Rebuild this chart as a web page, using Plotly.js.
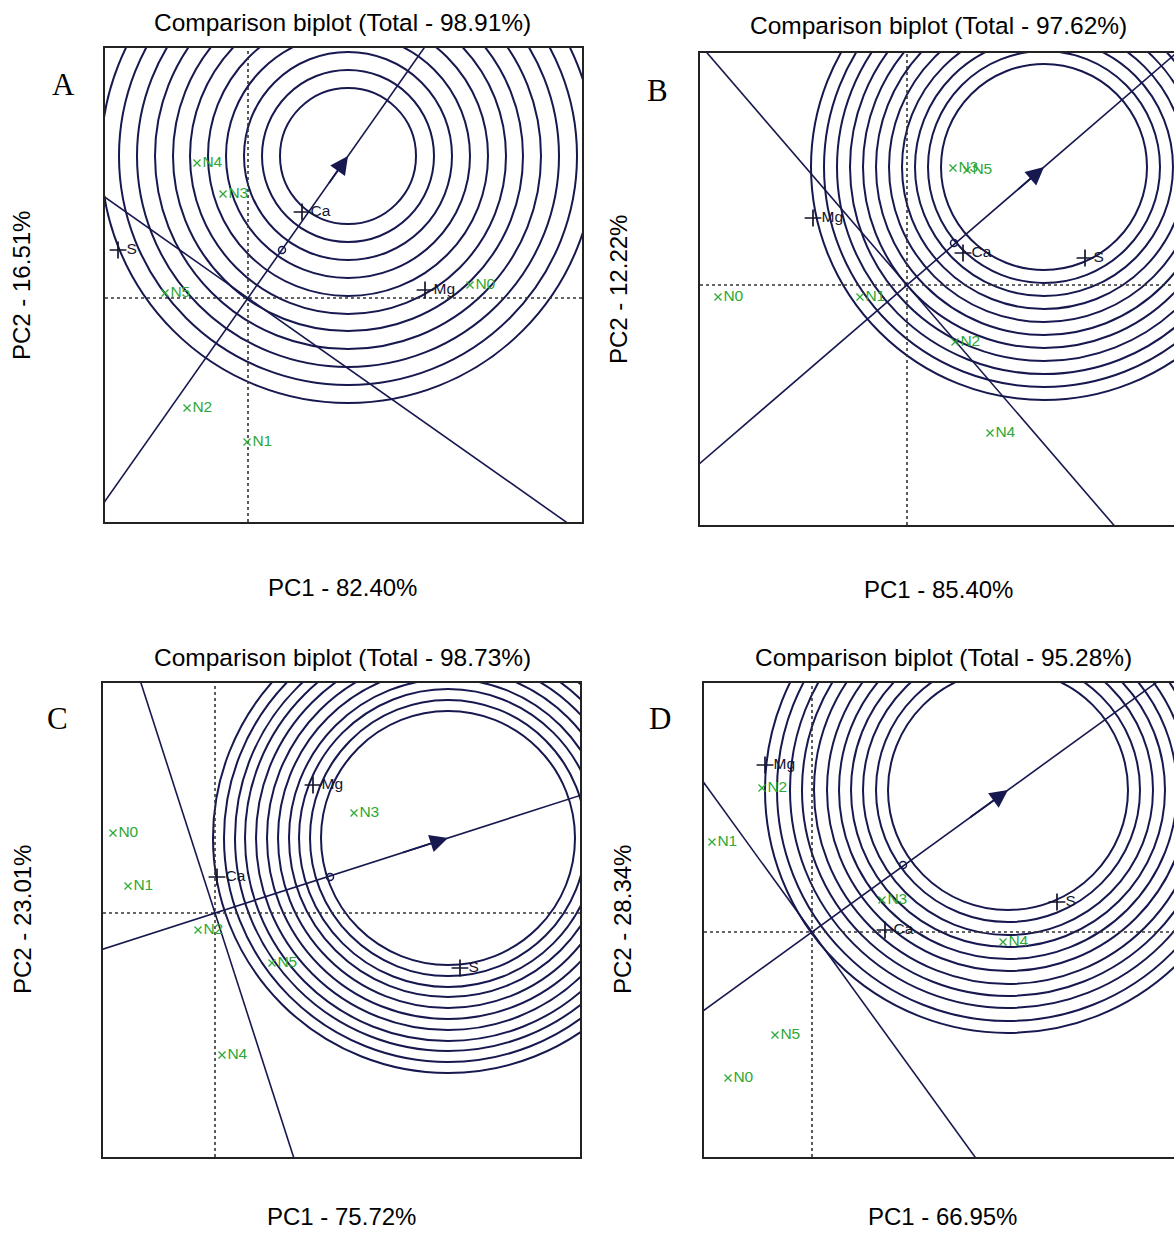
<!DOCTYPE html>
<html><head><meta charset="utf-8">
<script src="https://cdn.plot.ly/plotly-3.0.1.min.js"></script>
<style>html,body{margin:0;padding:0;overflow:hidden;background:#fff}#chart{width:1190px;height:1233px}</style>
</head><body><div id="chart"></div>
<script>
// ---------- DATA (PC1/PC2 scores) ----------
const envNames = ['Ca', 'Mg', 'S'];
const genNames = ['N0', 'N1', 'N2', 'N3', 'N4', 'N5'];
const panelLetters = ['A', 'B', 'C', 'D'];
const totalPct = ['98.91%', '97.62%', '98.73%', '95.28%'];
const pc1Pct = ['82.40%', '85.40%', '75.72%', '66.95%'];
const pc2Pct = ['16.51%', '12.22%', '23.01%', '28.34%'];

// Panel A
const envA_x = [0.54, 1.77, -1.30];
const envA_y = [0.86, 0.08, 0.48];
const genA_x = [2.22, -0.01, -0.61, -0.25, -0.51, -0.83];
const genA_y = [0.13, -1.44, -1.10, 1.04, 1.35, 0.05];
const avgA = [0.34, 0.48];
const idealA = [1.00, 1.42];
const ringsA = [0.68, 0.86, 1.04, 1.22, 1.40, 1.58, 1.75, 1.93, 2.11, 2.29, 2.47];

// Panel B
const envB_x = [0.56, -0.94, 1.78];
const envB_y = [0.32, 0.67, 0.27];
const genB_x = [-1.89, -0.47, 0.48, 0.46, 0.83, 0.60];
const genB_y = [-0.12, -0.12, -0.57, 1.17, -1.48, 1.15];
const avgB = [0.47, 0.42];
const idealB = [1.37, 1.18];
const ringsB = [1.03, 1.16, 1.29, 1.42, 1.55, 1.68, 1.81, 1.94, 2.07, 2.20, 2.33];

// Panel C
const envC_x = [0.02, 0.98, 2.45];
const envC_y = [0.36, 1.28, -0.55];
const genC_x = [-1.02, -0.87, -0.17, 1.39, 0.07, 0.57];
const genC_y = [0.80, 0.27, -0.17, 1.00, -1.42, -0.50];
const avgC = [1.15, 0.36];
const idealC = [2.33, 0.75];
const ringsC = [1.27, 1.38, 1.49, 1.59, 1.70, 1.81, 1.92, 2.03, 2.13, 2.24, 2.35];

// Panel D
const envD_x = [0.73, -0.47, 2.45];
const envD_y = [0.02, 1.67, 0.30];
const genD_x = [-0.84, -1.00, -0.50, 0.70, 1.91, -0.37];
const genD_y = [-1.46, 0.90, 1.44, 0.32, -0.10, -1.03];
const avgD = [0.91, 0.67];
const idealD = [1.96, 1.42];
const ringsD = [1.20, 1.32, 1.45, 1.57, 1.69, 1.81, 1.94, 2.06, 2.18, 2.31, 2.43];

// ---------- LAYOUT GEOMETRY ----------
const W = 1190, H = 1233;
const px2x = p => p / W;
const px2y = p => 1 - p / H;

const panels = [
  {env: [envA_x, envA_y], gen: [genA_x, genA_y], avg: avgA, ideal: idealA, rings: ringsA,
   box: [105, 582, 48, 522], xr: [-1.43, 3.34], yr: [-2.24, 2.50],
   title: [343, 22], xt: [343, 587], yt: [22, 286], letter: [63, 85]},
  {env: [envB_x, envB_y], gen: [genB_x, genB_y], avg: avgB, ideal: idealB, rings: ringsB,
   box: [700, 1177, 53, 525], xr: [-2.07, 2.70], yr: [-2.40, 2.32],
   title: [938, 25], xt: [938, 590], yt: [618, 290], letter: [657, 90]},
  {env: [envC_x, envC_y], gen: [genC_x, genC_y], avg: avgC, ideal: idealC, rings: ringsC,
   box: [103, 580, 683, 1157], xr: [-1.12, 3.65], yr: [-2.44, 2.30],
   title: [342, 657], xt: [341, 1216], yt: [22, 920], letter: [57, 718]},
  {env: [envD_x, envD_y], gen: [genD_x, genD_y], avg: avgD, ideal: idealD, rings: ringsD,
   box: [704, 1181, 683, 1157], xr: [-1.08, 3.69], yr: [-2.25, 2.49],
   title: [943, 657], xt: [942, 1216], yt: [622, 920], letter: [660, 718]}
];

const NAVY = '#16184f';
const DARK = '#15152e';
const GREEN = '#2ea836';
const FONT = 'Arial, "Liberation Sans", sans-serif';

const traces = [];
const shapes = [];
const annotations = [];
const layout = {
  width: W, height: H,
  margin: {l: 0, r: 0, t: 0, b: 0},
  paper_bgcolor: '#ffffff', plot_bgcolor: '#ffffff',
  showlegend: false, hovermode: false,
  font: {family: FONT, color: '#000'}
};

panels.forEach((p, i) => {
  const n = i === 0 ? '' : String(i + 1);
  const xa = 'x' + n, ya = 'y' + n;
  layout['xaxis' + n] = {
    domain: [px2x(p.box[0]), px2x(p.box[1])], range: p.xr, anchor: ya,
    showgrid: false, zeroline: false, showticklabels: false, ticks: '',
    showline: true, mirror: true, linecolor: '#222', linewidth: 2, fixedrange: true
  };
  layout['yaxis' + n] = {
    domain: [px2y(p.box[3]), px2y(p.box[2])], range: p.yr, anchor: xa,
    showgrid: false, zeroline: false, showticklabels: false, ticks: '',
    showline: true, mirror: true, linecolor: '#222', linewidth: 2, fixedrange: true
  };

  // concentric circles around the ideal point
  p.rings.forEach(r => {
    shapes.push({type: 'circle', xref: xa, yref: ya, layer: 'below',
      x0: p.ideal[0] - r, x1: p.ideal[0] + r, y0: p.ideal[1] - r, y1: p.ideal[1] + r,
      line: {color: NAVY, width: 2}});
  });

  // dotted axes through origin
  traces.push({x: p.xr, y: [0, 0], xaxis: xa, yaxis: ya, mode: 'lines',
    line: {color: '#333', width: 1.6, dash: 'dot'}});
  traces.push({x: [0, 0], y: p.yr, xaxis: xa, yaxis: ya, mode: 'lines',
    line: {color: '#333', width: 1.6, dash: 'dot'}});

  // average-environment axis and its perpendicular, both through origin
  const cx = p.ideal[0], cy = p.ideal[1];
  traces.push({x: [-10 * cx, 10 * cx], y: [-10 * cy, 10 * cy], xaxis: xa, yaxis: ya,
    mode: 'lines', line: {color: NAVY, width: 1.6}});
  traces.push({x: [10 * cy, -10 * cy], y: [-10 * cx, 10 * cx], xaxis: xa, yaxis: ya,
    mode: 'lines', line: {color: NAVY, width: 1.6}});

  // average environment marker
  traces.push({x: [p.avg[0]], y: [p.avg[1]], xaxis: xa, yaxis: ya, mode: 'markers',
    marker: {symbol: 'circle-open', size: 7, color: NAVY, line: {width: 1.5, color: NAVY}}});

  // environments (+)
  traces.push({x: p.env[0], y: p.env[1], text: envNames, xaxis: xa, yaxis: ya,
    mode: 'markers+text', textposition: 'middle right',
    textfont: {family: FONT, size: 15.5, color: DARK},
    marker: {symbol: 'cross-thin', size: 12, color: DARK, line: {width: 1.7, color: DARK}},
    cliponaxis: true});

  // genotypes (x)
  traces.push({x: p.gen[0], y: p.gen[1], text: genNames, xaxis: xa, yaxis: ya,
    mode: 'markers+text', textposition: 'middle right',
    textfont: {family: FONT, size: 15.5, color: GREEN},
    marker: {symbol: 'x-thin', size: 7, color: GREEN, line: {width: 1.3, color: GREEN}},
    cliponaxis: true});

  // arrow head at ideal point
  annotations.push({x: cx, y: cy, ax: cx * 0.8, ay: cy * 0.8, xref: xa, yref: ya,
    axref: xa, ayref: ya, showarrow: true, text: '', arrowhead: 2, arrowsize: 2,
    arrowwidth: 1.8, arrowcolor: NAVY, standoff: 0});

  // panel title
  annotations.push({x: px2x(p.title[0]), y: px2y(p.title[1]), xref: 'paper', yref: 'paper',
    xanchor: 'center', yanchor: 'middle', showarrow: false,
    text: 'Comparison biplot (Total - ' + totalPct[i] + ')',
    font: {family: FONT, size: 24.5, color: '#000'}});
  // x-axis title
  annotations.push({x: px2x(p.xt[0]), y: px2y(p.xt[1]), xref: 'paper', yref: 'paper',
    xanchor: 'center', yanchor: 'middle', showarrow: false,
    text: 'PC1 - ' + pc1Pct[i], font: {family: FONT, size: 24, color: '#000'}});
  // y-axis title
  annotations.push({x: px2x(p.yt[0]), y: px2y(p.yt[1]), xref: 'paper', yref: 'paper',
    xanchor: 'center', yanchor: 'middle', showarrow: false, textangle: -90,
    text: 'PC2 - ' + pc2Pct[i], font: {family: FONT, size: 24, color: '#000'}});
  // panel letter
  annotations.push({x: px2x(p.letter[0]), y: px2y(p.letter[1]), xref: 'paper', yref: 'paper',
    xanchor: 'center', yanchor: 'middle', showarrow: false,
    text: panelLetters[i], font: {family: '"Liberation Serif", "Times New Roman", serif', size: 31, color: '#000'}});
});

layout.shapes = shapes;
layout.annotations = annotations;

Plotly.newPlot('chart', traces, layout, {staticPlot: true, displayModeBar: false});
</script>
</body></html>
